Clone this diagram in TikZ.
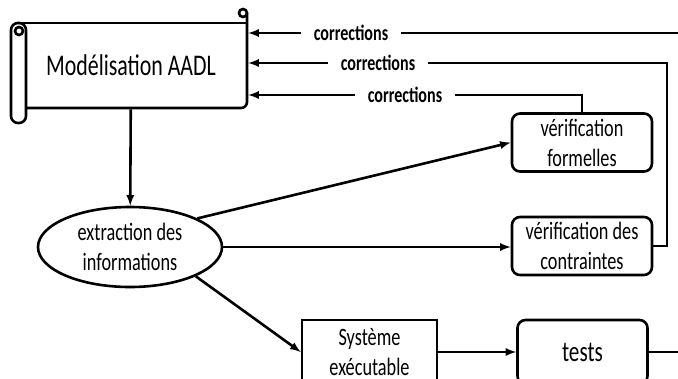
\documentclass[tikz,border=0pt]{standalone}
\usepackage{fontspec}
\setmainfont{Carlito}[FakeStretch=0.73]
\usetikzlibrary{arrows,shapes.geometric}

\begin{document}
\begin{tikzpicture}[x=1pt,y=-1pt,line width=2.6pt,
        boite/.style={draw,rounded corners=8,align=center,inner sep=0,minimum width=140,minimum height=58,font=\fontsize{25}{30}\selectfont},
        ovale/.style={draw,ellipse,align=center,inner sep=0,minimum width=184,minimum height=80,font=\fontsize{25}{30}\selectfont},
        corr/.style={inner xsep=12,inner ysep=0,font=\bfseries\fontsize{22}{26}\selectfont}]
        \useasboundingbox (0,0) rectangle (678,378);

        % le parchemin
        \node[minimum width=232,minimum height=85,inner sep=0,font=\fontsize{30}{36}\selectfont] (aadl) at (131,65.5) {Modélisation AADL};
        \draw [rounded corners=6] (247,13) -- (247,108) -- (20,108);
        \draw [] (19,23) -- (247,23);
        \draw [] (243,13) circle (4);
        \draw [fill=white,rounded corners=7] (11,23) rectangle (26,123);
        \draw [] (19,31) circle (4);

        \node[ovale] (ext) at (130,247) {extraction des\\informations};
        \node[boite] (formel) at (582,142.5) {vérification\\formelles};
        \node[boite] (contr) at (582,246) {vérification des\\contraintes};
        \node[boite,rounded corners=0,minimum width=135,minimum height=64] (sys) at (369.5,352) {Système\\exécutable};
        \node[boite,minimum width=130,minimum height=64,font=\fontsize{29}{34}\selectfont] (tests) at (582.5,352) {tests};

        \draw [-latex] (aadl) -- (ext);
        \draw [-latex] (ext.23) -- (formel.west);
        \draw [-latex] (ext.east) -- (ext.east -| contr.west);
        \draw [-latex] (ext.-24) -- (sys.west);
        \draw [-latex] (sys) -- (tests);
        \coordinate (fin) at (678,352);
        \draw [] (tests) -- (fin);

        % les corrections
        \coordinate (r1) at (678,33);
        \coordinate (k2) at (667,63);
        \node[corr] (l1) at (351,33) {corrections};
        \node[corr] (l2) at (378,63) {corrections};
        \node[corr] (l3) at (405,95) {corrections};
        \draw [] (r1) -- (l1);
        \draw [-latex] (l1) -- (l1 -| aadl.east);
        \draw [] (contr.east) -| (k2) -- (l2);
        \draw [-latex] (l2) -- (l2 -| aadl.east);
        \draw [] (formel.north) |- (l3);
        \draw [-latex] (l3) -- (l3 -| aadl.east);
    \end{tikzpicture}
\end{document}
